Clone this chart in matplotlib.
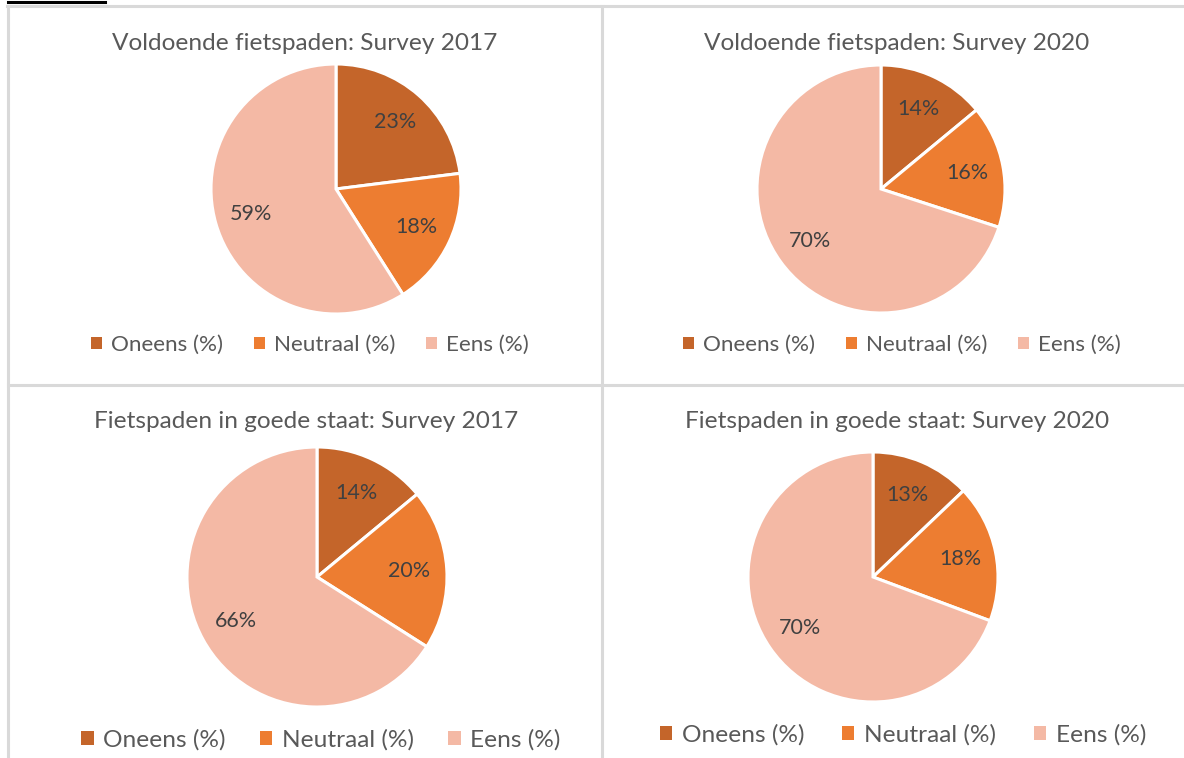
import matplotlib.pyplot as plt
from matplotlib.lines import Line2D
from matplotlib.patches import Patch

W, H = 1184, 758

categories = ["Oneens (%)", "Neutraal (%)", "Eens (%)"]
colors = ["#C4652A", "#ED7D31", "#F4B9A5"]

titles = [
    "Voldoende fietspaden: Survey 2017",
    "Voldoende fietspaden: Survey 2020",
    "Fietspaden in goede staat: Survey 2017",
    "Fietspaden in goede staat: Survey 2020",
]
voldoende_2017 = [23, 18, 59]
voldoende_2020 = [14, 16, 70]
staat_2017 = [14, 20, 66]
staat_2020 = [13, 18, 70]
series = [voldoende_2017, voldoende_2020, staat_2017, staat_2020]

# layout in pixels: pie centre / radius, title centre, legend centre
pie_geo = [(336, 189, 125), (881, 189, 124), (317, 577, 130), (873, 577, 125)]
title_pos = [(305, 44), (897, 44), (306, 422), (897, 422)]
legend_pos = [(310, 345), (902, 345), (321, 740), (903, 735)]
legend_size = [16.2, 16.2, 17.6, 17.6]
legend_gap = [1.35, 1.35, 1.4, 1.55]

plt.rcParams["font.family"] = ["Lato", "DejaVu Sans"]


def fx(x):
    return x / W


def fy(y):
    return 1 - y / H


def main():
    fig = plt.figure(figsize=(W / 100, H / 100), dpi=100)

    # table grid
    grid = "#D9D9D9"
    for (x0, y0, x1, y1) in [(7, 6, W, 6), (8, 6, 8, H), (602, 6, 602, H), (8, 385, W, 385)]:
        fig.add_artist(Line2D([fx(x0), fx(x1)], [fy(y0), fy(y1)], color=grid, lw=2.2))
    fig.add_artist(Line2D([fx(8), fx(105)], [fy(1.5), fy(1.5)], color="black", lw=2.2))

    for i in range(4):
        cx, cy, r = pie_geo[i]
        ax = fig.add_axes([fx(cx - r), fy(cy + r), 2 * r / W, 2 * r / H])
        labels = iter(f"{v}%" for v in series[i])
        wedges, _, autotexts = ax.pie(
            series[i], colors=colors, startangle=90, counterclock=False,
            radius=1, autopct=lambda p: next(labels), pctdistance=0.71,
            wedgeprops=dict(edgecolor="white", linewidth=2.2),
            textprops=dict(color="#404040", fontsize=15.5),
        )
        for w in wedges:
            w.set_clip_on(False)
        ax.set_xlim(-1, 1)
        ax.set_ylim(-1, 1)
        ax.set_aspect("equal")
        ax.axis("off")

        tx, ty = title_pos[i]
        fig.text(fx(tx), fy(ty), titles[i], ha="center", va="center",
                 fontsize=17.6, color="#595959")

        handles = [Patch(facecolor=c, edgecolor="none") for c in colors]
        lx, ly = legend_pos[i]
        fig.legend(handles, categories, loc="center", ncol=3,
                   bbox_to_anchor=(fx(lx), fy(ly)), frameon=False,
                   fontsize=legend_size[i], labelcolor="#595959",
                   handlelength=0.5, handleheight=0.5, handletextpad=0.4,
                   columnspacing=legend_gap[i])

    fig.savefig("out.png", dpi=100)


if __name__ == "__main__":
    main()
